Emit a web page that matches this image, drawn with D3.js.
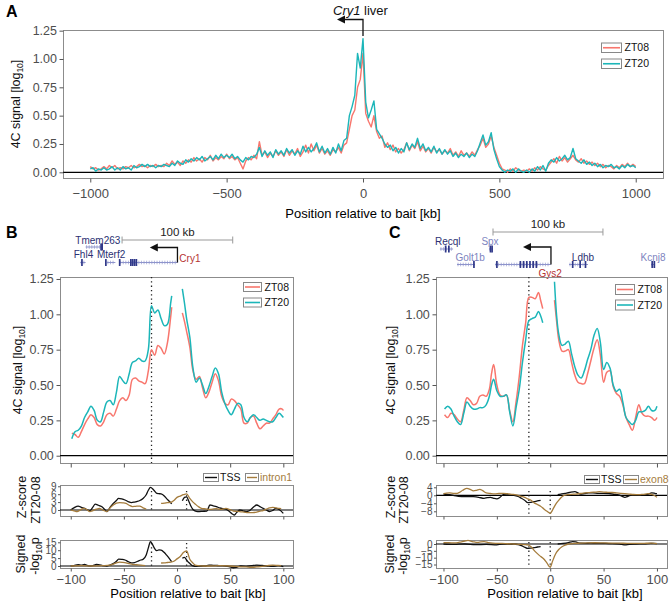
<!DOCTYPE html>
<html><head><meta charset="utf-8">
<script src="https://cdn.jsdelivr.net/npm/d3@7"></script>
<style>body{margin:0;background:#fff;}</style>
</head><body>
<svg id="c" width="670" height="602"></svg>
<script>
// ---------------- DATA ----------------
const seriesNames = ["ZT08","ZT20"];
const baitNames = ["TSS","intron1","exon8"];
// Panel A: 4C signal, -1000..1000 kb every 10 kb
const aKb = d3.range(-1000, 1001, 10);
const aZT08 = [
0.05,0.03,0.04,0.02,0.03,0.05,0.03,0.06,0.04,0.06,
0.03,0.04,0.03,0.05,0.04,0.06,0.04,0.05,0.07,0.05,
0.06,0.04,0.06,0.05,0.07,0.05,0.06,0.05,0.08,0.06,
0.10,0.07,0.09,0.06,0.10,0.08,0.11,0.09,0.13,0.10,
0.12,0.09,0.13,0.11,0.15,0.10,0.13,0.11,0.14,0.12,
0.16,0.12,0.14,0.11,0.13,0.08,0.03,0.10,0.13,0.11,
0.15,0.12,0.27,0.15,0.18,0.13,0.17,0.14,0.19,0.15,
0.18,0.14,0.20,0.15,0.19,0.16,0.21,0.14,0.18,0.24,
0.17,0.25,0.19,0.24,0.17,0.21,0.16,0.19,0.15,0.20,
0.18,0.22,0.17,0.24,0.26,0.38,0.50,0.55,0.75,0.82,
1.05,0.52,0.45,0.40,0.50,0.36,0.30,0.32,0.22,0.26,
0.20,0.24,0.18,0.21,0.17,0.20,0.26,0.19,0.24,0.21,
0.27,0.19,0.23,0.18,0.21,0.17,0.22,0.18,0.20,0.16,
0.19,0.17,0.21,0.15,0.18,0.14,0.19,0.15,0.17,0.14,
0.18,0.15,0.20,0.24,0.30,0.22,0.25,0.32,0.22,0.15,
0.08,0.03,0.02,0.00,0.03,0.01,0.04,0.02,0.01,0.02,
0.01,0.03,0.01,0.04,0.02,0.05,0.03,0.02,0.06,0.09,
0.12,0.08,0.14,0.10,0.13,0.09,0.12,0.15,0.11,0.09,
0.12,0.08,0.10,0.07,0.09,0.06,0.08,0.05,0.07,0.04,
0.06,0.05,0.03,0.06,0.04,0.07,0.05,0.08,0.05,0.07,
0.05];
const aZT20 = [
0.03,0.04,0.01,0.03,0.02,0.04,0.02,0.03,0.05,0.02,
0.04,0.02,0.05,0.03,0.04,0.02,0.06,0.04,0.05,0.07,
0.05,0.07,0.05,0.06,0.04,0.06,0.05,0.07,0.06,0.05,
0.08,0.06,0.10,0.08,0.07,0.11,0.09,0.12,0.10,0.13,
0.11,0.14,0.10,0.12,0.14,0.11,0.15,0.12,0.16,0.13,
0.15,0.13,0.16,0.12,0.14,0.11,0.09,0.13,0.11,0.14,
0.13,0.16,0.22,0.14,0.19,0.15,0.18,0.13,0.20,0.16,
0.19,0.15,0.21,0.17,0.20,0.15,0.19,0.16,0.23,0.18,
0.22,0.18,0.21,0.26,0.18,0.23,0.17,0.21,0.16,0.22,
0.17,0.25,0.19,0.28,0.30,0.50,0.58,0.68,1.05,0.92,
1.18,0.62,0.48,0.55,0.63,0.38,0.34,0.30,0.25,0.22,
0.24,0.19,0.22,0.17,0.21,0.18,0.26,0.20,0.25,0.22,
0.30,0.21,0.25,0.19,0.22,0.18,0.23,0.17,0.21,0.16,
0.20,0.16,0.19,0.14,0.17,0.13,0.16,0.14,0.17,0.13,
0.16,0.14,0.19,0.26,0.33,0.24,0.27,0.35,0.20,0.12,
0.05,0.02,0.00,0.02,0.01,0.03,0.00,0.03,0.01,0.00,
0.02,0.00,0.03,0.01,0.05,0.02,0.06,0.01,0.08,0.11,
0.09,0.13,0.10,0.12,0.15,0.11,0.13,0.21,0.12,0.10,
0.08,0.11,0.07,0.09,0.06,0.08,0.05,0.07,0.04,0.06,
0.05,0.07,0.04,0.05,0.03,0.06,0.04,0.07,0.05,0.06,
0.04];

// Panel B (Cry1) 4C signal, left and right of bait
const bKbL = [-99,-96,-93,-90,-87,-84,-81,-78,-75,-72,-69,-66,-63,-60,-57,-54,-51,-48,-45,-42,-39,-36,-33,-30,-27,-24,-21,-18,-15,-12,-9,-6,-5];
const bZT08L = [0.16,0.15,0.13,0.17,0.22,0.26,0.29,0.27,0.22,0.21,0.24,0.29,0.30,0.28,0.33,0.39,0.41,0.39,0.43,0.54,0.55,0.53,0.52,0.51,0.60,0.75,0.71,0.78,0.76,0.72,0.80,0.98,1.05];
const bZT20L = [0.12,0.17,0.18,0.21,0.27,0.31,0.35,0.32,0.25,0.24,0.31,0.38,0.39,0.36,0.45,0.56,0.53,0.51,0.58,0.66,0.67,0.69,0.67,0.67,0.75,1.06,1.01,1.03,0.97,0.92,0.93,1.08,1.13];
const bKbR = [5,7,9,12,15,18,21,24,27,30,33,36,39,42,45,48,51,54,57,60,63,66,69,72,75,78,81,84,87,90,93,96,99,100];
const bZT08R = [1.01,0.95,0.88,0.77,0.60,0.54,0.56,0.48,0.41,0.45,0.52,0.58,0.53,0.42,0.37,0.36,0.40,0.39,0.36,0.33,0.23,0.23,0.27,0.28,0.23,0.19,0.21,0.23,0.23,0.26,0.29,0.33,0.33,0.32];
const bZT20R = [1.18,1.08,0.97,0.84,0.62,0.52,0.55,0.50,0.44,0.49,0.56,0.62,0.58,0.45,0.37,0.32,0.29,0.33,0.37,0.36,0.27,0.24,0.27,0.29,0.27,0.25,0.26,0.25,0.24,0.24,0.27,0.30,0.28,0.27];

// Panel C (Gys2) 4C signal
const cKbL = [-99,-96,-93,-90,-87,-84,-81,-78,-75,-72,-69,-66,-63,-60,-57,-55,-53,-50,-47,-44,-41,-38,-35,-32,-29,-26,-23,-20,-17,-14,-11,-9,-7];
const cZT08L = [0.29,0.27,0.30,0.29,0.26,0.24,0.32,0.41,0.39,0.36,0.37,0.42,0.43,0.42,0.47,0.58,0.645,0.50,0.43,0.42,0.43,0.32,0.24,0.38,0.56,0.78,0.94,1.12,1.12,1.11,1.155,1.10,1.04];
const cZT20L = [0.33,0.35,0.33,0.28,0.24,0.22,0.30,0.38,0.35,0.33,0.33,0.34,0.34,0.36,0.42,0.50,0.54,0.46,0.42,0.42,0.43,0.31,0.21,0.34,0.47,0.66,0.82,0.955,0.97,0.98,1.02,0.99,0.94];
const cKbR = [4,6,8,11,14,17,20,23,26,29,32,35,38,41,44,47,50,53,56,59,62,65,68,71,74,77,80,83,86,89,92,95,98,100];
const cZT08R = [1.10,0.95,0.82,0.74,0.74,0.75,0.66,0.57,0.52,0.51,0.51,0.58,0.67,0.76,0.82,0.71,0.52,0.59,0.60,0.49,0.44,0.42,0.36,0.27,0.22,0.18,0.27,0.36,0.30,0.28,0.28,0.27,0.25,0.27];
const cZT20R = [1.23,0.99,0.86,0.78,0.79,0.81,0.72,0.63,0.57,0.55,0.60,0.68,0.75,0.85,0.90,0.80,0.61,0.66,0.62,0.50,0.455,0.47,0.38,0.27,0.24,0.22,0.25,0.31,0.31,0.32,0.35,0.32,0.32,0.35];

// Lower panels: [kb, value]
const bZTssL = [[-100,0],[-97,0.8],[-93,1.5],[-90,1.0],[-87,0.6],[-84,0.0],[-82,-0.3],[-79,1.2],[-77,2.2],[-74,1.8],[-71,1.3],[-68,0.2],[-66,-0.6],[-63,1.0],[-60,2.5],[-57,3.6],[-55,4.4],[-52,4.2],[-49,3.8],[-46,3.2],[-43,2.8],[-40,3.0],[-38,3.2],[-35,3.6],[-32,4.4],[-29,5.8],[-27,7.5],[-25,8.6],[-22,7.6],[-19,6.3],[-17,6.2],[-15,6.1],[-12,5.3],[-10,4.4],[-7,3.2],[-5,2.3]];
const bZTssR = [[5,3.5],[7,4.8],[9,5.0],[11,3.4],[13,1.5],[15,0.2],[18,-0.5],[21,-0.6],[24,-0.5],[28,-0.4],[31,1.9],[34,1.6],[37,1.3],[40,0.8],[43,0.5],[46,0.3],[49,-0.5],[52,-1.5],[54,-1.9],[56,-1.0],[59,0.0],[62,-0.3],[65,-0.6],[68,-0.3],[71,0.8],[75,1.9],[78,1.3],[81,0.6],[84,0.0],[87,-0.6],[90,-0.2],[93,0.6],[96,0.2],[100,-1.3]];
const bZIntL = [[-100,0],[-97,-0.3],[-94,-0.6],[-91,0.0],[-88,0.6],[-85,0.2],[-82,-0.6],[-79,-0.2],[-76,0.3],[-73,0.6],[-70,0.0],[-66,-0.6],[-63,0.8],[-60,1.9],[-57,2.6],[-54,2.8],[-51,2.7],[-48,2.5],[-45,1.8],[-42,1.3],[-39,1.4],[-35,1.5],[-32,0.8],[-29,0.3]];
const bZIntR = [[-15,2.5],[-12,2.6],[-9,2.8],[-6,2.9],[-3,3.6],[0,4.8],[3,5.3],[6,5.8],[9,6.1],[12,4.4],[15,3.0],[17,2.3],[20,1.3],[23,0.6],[27,0.4],[30,0.2],[33,0.3],[37,0.5],[41,0.2],[46,0.6],[50,0.1],[53,-0.4],[56,-0.5],[59,-0.6],[63,-0.8],[67,-1.0],[71,-1.0],[75,-0.8],[78,-0.4],[81,-0.2],[84,0.3],[87,0.8],[90,1.0],[93,0.8],[96,0.6],[98,0.5]];
const bPTssL = [[-100,0],[-97,0.3],[-93,0.8],[-90,0.5],[-87,1.0],[-84,0.3],[-81,0],[-78,0.5],[-76,1.0],[-73,0.7],[-70,0.3],[-66,0],[-63,0.5],[-60,1.5],[-57,3.0],[-55,4.4],[-52,4.2],[-49,3.8],[-46,2.8],[-43,2.0],[-40,2.2],[-37,3.0],[-34,3.8],[-32,4.2],[-29,7.0],[-27,11.5],[-25,15.4],[-23,13.5],[-21,11.0],[-19,9.7],[-17,10.2],[-15,10.1],[-12,8.5],[-10,7.0],[-7,4.5],[-5,2.7]];
const bPTssR = [[5,4.9],[7,5.5],[9,3.8],[11,2.2],[13,1.0],[15,0.0],[18,-0.3],[22,0],[26,0],[30,0.6],[34,0.4],[38,0.3],[42,0.2],[46,0],[50,-0.6],[53,-1.1],[56,-0.8],[60,0],[65,-0.2],[70,0.2],[75,0.6],[80,0.3],[85,0],[90,-0.2],[95,0.2],[100,-0.4]];
const bPIntL = [[-100,0],[-90,0.2],[-80,0],[-70,0.2],[-63,0.5],[-60,1.2],[-57,2.0],[-54,2.5],[-51,2.3],[-48,2.0],[-45,1.5],[-42,1.0],[-38,0.8],[-34,0.6],[-30,0.2]];
const bPIntR = [[-15,1.9],[-12,2.0],[-9,2.2],[-6,2.4],[-3,3.0],[0,4.5],[3,6.0],[6,8.5],[9,9.5],[12,4.3],[15,1.8],[17,0.6],[20,0.2],[25,0],[30,0],[40,0.2],[50,0],[55,-0.3],[60,-0.5],[65,-0.6],[70,-0.8],[75,-0.6],[80,-0.2],[85,0.2],[90,0.5],[95,0.3],[98,0.2]];
const cZTssL = [[-100,0.6],[-97,0.4],[-94,0.3],[-90,-0.2],[-86,-0.5],[-81,-0.7],[-77,-0.6],[-72,-0.7],[-67,-1.0],[-62,-1.5],[-59,-1.2],[-56,-1.0],[-53,-1.5],[-50,-1.8],[-47,-1.0],[-44,0.3],[-40,0.2],[-37,0.1],[-34,0.0],[-30,-0.6],[-27,-1.5],[-24,-2.5],[-21,-3.7],[-18,-3.5],[-15,-3.2],[-12,-2.8],[-9,-2.5]];
const cZTssR = [[7,0.3],[10,0.6],[14,1.0],[18,1.4],[23,1.8],[26,1.2],[28,0.6],[32,0.9],[36,1.2],[40,1.2],[45,1.0],[50,1.0],[55,0.9],[60,0.5],[64,0.2],[67,-0.4],[70,-1.0],[73,-0.5],[77,0.2],[81,0.2],[85,0.1],[89,0.2],[92,0.6],[95,1.2],[98,1.0],[100,0.8]];
const cZExon = [[-100,0.8],[-97,1.1],[-94,1.2],[-91,1.0],[-88,0.9],[-85,1.5],[-82,2.5],[-78,3.5],[-75,3.0],[-72,2.2],[-69,2.5],[-66,3.0],[-63,2.2],[-60,1.2],[-56,0.9],[-52,0.7],[-48,0.9],[-44,1.0],[-40,0.8],[-36,0.5],[-32,0.2],[-28,-0.4],[-24,-1.0],[-21,-1.8],[-18,-2.5],[-15,-3.8],[-12,-4.6],[-9,-5.5],[-6,-6.8],[-3,-8.0],[0,-9.0],[2,-7.5],[4,-5.5],[6,-3.8],[8,-2.5],[10,-1.2],[13,0.0],[16,0.3],[20,0.5],[24,0.6],[28,0.9],[33,1.2],[38,1.5],[43,1.6],[46,1.8],[50,1.6],[54,1.5],[58,1.4],[62,1.2],[66,1.0],[70,0.8],[74,0.6],[78,0.4],[83,0.3],[87,0.5],[92,0.8],[95,0.5],[98,-0.2],[100,-1.0]];
const cPTssL = [[-100,0],[-90,-0.3],[-80,0],[-70,-0.5],[-60,-0.3],[-50,-0.6],[-45,0],[-40,0],[-34,0],[-30,-0.5],[-27,-1.2],[-24,-2.3],[-21,-3.2],[-18,-3.0],[-15,-2.7],[-12,-2.2],[-9,-1.9]];
const cPTssR = [[7,0],[12,0.4],[17,1.0],[21,1.7],[24,1.5],[28,0.6],[33,0.5],[38,0.6],[43,0.4],[48,0.5],[55,0.3],[62,0.2],[67,-0.3],[70,-0.6],[74,-0.2],[80,0],[88,0.1],[94,0.4],[97,0.5],[100,0.3]];
const cPExon = [[-100,1.0],[-95,1.0],[-90,0.8],[-85,1.3],[-80,2.2],[-77,2.6],[-74,2.0],[-71,1.5],[-68,1.2],[-65,1.6],[-62,1.7],[-58,1.0],[-54,0.6],[-50,0.5],[-45,0.4],[-40,0.2],[-34,0.0],[-28,-0.2],[-24,-0.4],[-21,-0.7],[-18,-2.0],[-14,-5.6],[-10,-8.5],[-6,-11.0],[-3,-14.0],[0,-17.0],[2,-13.0],[4,-9.0],[6,-6.0],[8,-4.0],[11,-2.0],[14,-0.8],[17,0.0],[22,0.4],[28,0.6],[35,0.8],[42,0.9],[50,0.8],[58,0.7],[65,0.6],[72,0.5],[80,0.4],[88,0.5],[95,0.6],[100,0.3]];

// Tick values
const aXTicks = [-1000,-500,0,500,1000];
const mainYTicks = [0,0.25,0.5,0.75,1.0,1.25];
const kbTicks = [-100,-50,0,50,100];
const bZTicks = [0,3,6,9], bPTicks = [0,5,10,15];
const cZTicks = [-8,-4,0,4], cPTicks = [-15,-10,-5,0];
const bDotted = [-24, 9], cDotted = [-20, 0];

// Gene tracks
const bGeneName = ["Fhl4","Tmem263","Mterf2","Cry1"];
const bGeneStart = [-91,-86,-66,-54];
const bGeneEnd = [-86,-71,-58,0.5];
const bGeneRow = [2,1,2,2];
const bGeneExons = [[-89.5],[-71.5,-70.5],[-67],[-54,-43.5,-41.8,-40,-38.3]];
const bGeneLabelKb = [-88,-74.5,-62,2.2];
const cGeneName = ["Recql","Spx","Golt1b","Gys2","Ldhb","Kcnj8"];
const cGeneStart = [-103.3,-57.4,-87.3,-51.7,17.6,94.5];
const cGeneEnd = [-91,-53.7,-70.5,0.5,35.4,98.2];
const cGeneRow = [1,1,2,2,2,2];
const cGeneExons = [[-98,-95],[-56,-54.5],[-71.5],[-50,-28,-25,-22,-19,-16,-13],[21,28,33],[95.5,97.5]];
const cGeneLabelKb = [-96,-56.4,-75,0,30.7,96.3];

// ---------------- DRAW ----------------
const FONT = "'Liberation Sans', Arial, Helvetica, sans-serif";
const RED = "#F8766D", TEAL = "#1CB6B9", BROWN = "#A57C3C";
const NAVY = "#2C3172", LIGHT = "#7E84C0", GENE = "#8E94CC", GENEDARK = "#2F3889", GENERED = "#B53232";
const svg = d3.select("#c").attr("font-family", FONT);

function addBox(x0,y0,x1,y1){
  svg.append("rect").attr("x",x0+0.5).attr("y",y0+0.5).attr("width",x1-x0).attr("height",y1-y0)
    .attr("fill","none").attr("stroke","#8c8c8c").attr("stroke-width",1);
}
function styleAxis(g, fs){
  g.attr("font-family",FONT).attr("font-size",fs);
  g.select(".domain").remove();
  g.selectAll(".tick line").attr("stroke","#555");
  g.selectAll(".tick text").attr("fill","#4d4d4d");
}
function axisL(y, x0, vals, fmt, fs, size, pad){
  const g = svg.append("g").attr("transform",`translate(${x0+0.5},0)`)
    .call(d3.axisLeft(y).tickValues(vals).tickFormat(fmt).tickSize(size).tickPadding(pad));
  styleAxis(g, fs);
}
function axisB(x, y0, vals, fmt, fs, size, pad){
  const g = svg.append("g").attr("transform",`translate(0,${y0+0.5})`)
    .call(d3.axisBottom(x).tickValues(vals).tickFormat(fmt).tickSize(size).tickPadding(pad));
  styleAxis(g, fs);
}
function drawLine(pts, x, y, color, w, curve){
  svg.append("path").datum(pts).attr("fill","none").attr("stroke",color).attr("stroke-width",w)
    .attr("stroke-linejoin","round")
    .attr("d", d3.line().x(d=>x(d[0])).y(d=>y(d[1])).curve(curve));
}
function zeroLine(x, y, w){
  const [a,b] = x.range();
  svg.append("line").attr("x1",a).attr("x2",b).attr("y1",y(0)).attr("y2",y(0))
    .attr("stroke","#000").attr("stroke-width",w);
}
function dotted(xv, x, ya, yb){
  svg.append("line").attr("x1",x(xv)).attr("x2",x(xv)).attr("y1",ya).attr("y2",yb)
    .attr("stroke","#222").attr("stroke-width",1.3).attr("stroke-dasharray","1.3,3");
}
function legendV(x, y, w, h, gap, colors, labels, fs){
  labels.forEach((lab,i)=>{
    const yy = y + i*gap;
    svg.append("rect").attr("x",x+0.5).attr("y",yy+0.5).attr("width",w).attr("height",h)
      .attr("fill","#fff").attr("stroke","#888");
    svg.append("line").attr("x1",x+2).attr("x2",x+w-1).attr("y1",yy+h/2+0.5).attr("y2",yy+h/2+0.5)
      .attr("stroke",colors[i]).attr("stroke-width",1.6);
    svg.append("text").attr("x",x+w+3.5).attr("y",yy+h/2+4).attr("font-size",fs).attr("fill","#111").text(lab);
  });
}
function legendH(items, y, h, fs){
  items.forEach(it=>{
    svg.append("rect").attr("x",it.x+0.5).attr("y",y+0.5).attr("width",it.w).attr("height",h)
      .attr("fill","#fff").attr("stroke","#888");
    svg.append("line").attr("x1",it.x+2).attr("x2",it.x+it.w-1).attr("y1",y+h/2+0.5).attr("y2",y+h/2+0.5)
      .attr("stroke",it.color).attr("stroke-width",1.4);
    svg.append("text").attr("x",it.x+it.w+2).attr("y",y+h/2+4).attr("font-size",fs).attr("fill",it.tc).text(it.label);
  });
}
function vLabel(x, y, fs, parts){
  const t = svg.append("text").attr("transform",`translate(${x},${y}) rotate(-90)`)
    .attr("text-anchor","middle").attr("font-size",fs).attr("fill","#111");
  parts.forEach(p=>{
    const s = t.append("tspan").text(p.t);
    if (p.sub) s.attr("font-size",fs*0.68).attr("dy",3);
    if (p.up) s.attr("dy",-3);
  });
}
function letter(x,y,s){
  svg.append("text").attr("x",x).attr("y",y).attr("font-size",16).attr("font-weight","bold").attr("fill","#000").text(s);
}
const fmt2 = d3.format(".2f");
const fmtInt = d3.format("d");

// ======== Panel A ========
letter(6,17,"A");
const ax = d3.scaleLinear().domain([-1100,1100]).range([63,663]);
const ay = d3.scaleLinear().domain([-0.0503,1.2559]).range([178,30]);
addBox(63,30,663,178);
zeroLine(ax, ay, 1.3);
drawLine(aKb.map((k,i)=>[k,aZT08[i]]), ax, ay, RED, 1.4, d3.curveLinear);
drawLine(aKb.map((k,i)=>[k,aZT20[i]]), ax, ay, TEAL, 1.4, d3.curveLinear);
axisL(ay, 63, mainYTicks, fmt2, 12.5, 4, 2.5);
axisB(ax, 178, aXTicks, fmtInt, 13, 4, 6);
vLabel(20, 104, 12.5, [{t:"4C signal [log"},{t:"10",sub:true},{t:"]",up:true}]);
svg.append("text").attr("x",363).attr("y",218).attr("text-anchor","middle").attr("font-size",13).text("Position relative to bait [kb]");
legendV(601, 42.5, 20, 9.5, 16, [RED,TEAL], seriesNames, 10.5);
// title with TSS arrow
{
  const t = svg.append("text").attr("x",333).attr("y",15).attr("font-size",13).attr("fill","#111");
  t.append("tspan").attr("font-style","italic").text("Cry1");
  t.append("tspan").text(" liver");
  const x0 = ax(0);
  svg.append("path").attr("d",`M${x0},36 V19.5 H${x0-19}`).attr("fill","none").attr("stroke","#111").attr("stroke-width",1.3);
  svg.append("path").attr("d",`M${x0-26},19.5 l8,-4 v8 z`).attr("fill","#111");
}

// ======== Gene tracks ========
function geneTrack(x, names, starts, ends, rows, exons, labKb, rowY, labY, labColors, special){
  names.forEach((n,i)=>{
    const gy = rowY[rows[i]];
    const a = x(starts[i]), b = x(ends[i]);
    svg.append("line").attr("x1",a).attr("x2",b).attr("y1",gy).attr("y2",gy).attr("stroke",GENE).attr("stroke-width",1);
    for (let xx = a+1; xx < b-0.5; xx += 2.6) {
      svg.append("line").attr("x1",xx).attr("x2",xx).attr("y1",gy-1.8).attr("y2",gy+1.8).attr("stroke",GENE).attr("stroke-width",0.7);
    }
    exons[i].forEach(e=>{
      svg.append("rect").attr("x",x(e)-0.8).attr("y",gy-3.5).attr("width",1.7).attr("height",7).attr("fill",GENEDARK);
    });
    const sp = special[i];
    svg.append("text").attr("x",x(labKb[i])).attr("y", sp ? sp.y : labY[rows[i]])
      .attr("text-anchor", sp ? sp.anchor : "middle").attr("font-size",10).attr("fill",labColors[i]).text(n);
  });
}
function tssArrow(x, kb, yBottom, yTop, tipKb){
  const x0 = x(kb), xt = x(tipKb);
  svg.append("path").attr("d",`M${x0},${yBottom} V${yTop} H${xt+7}`).attr("fill","none").attr("stroke","#111").attr("stroke-width",1.3);
  svg.append("path").attr("d",`M${xt},${yTop} l8,-4 v8 z`).attr("fill","#111");
}
function scaleBar(x, k0, k1, y, ty){
  svg.append("path").attr("d",`M${x(k0)},${y-3.5} V${y+3.5} M${x(k0)},${y} H${x(k1)} M${x(k1)},${y-3.5} V${y+3.5}`)
    .attr("fill","none").attr("stroke","#999").attr("stroke-width",1);
  svg.append("text").attr("x",(x(k0)+x(k1))/2).attr("y",ty).attr("text-anchor","middle").attr("font-size",11.5).attr("fill","#222").text("100 kb");
}

// ======== Panel B ========
letter(6,238,"B");
const bx = d3.scaleLinear().domain([-110.1,109.1]).range([60,293]);
const by = d3.scaleLinear().domain([-0.0516,1.264]).range([463,277]);
scaleBar(bx, -51.7, 52.4, 240, 236);
geneTrack(bx, bGeneName, bGeneStart, bGeneEnd, bGeneRow, bGeneExons, bGeneLabelKb,
  {1:247, 2:262.5}, {1:244, 2:258}, [NAVY,NAVY,NAVY,GENERED],
  [null,null,null,{y:262,anchor:"start"}]);
tssArrow(bx, 0.4, 262.5, 247.5, -25.6);
addBox(60,277,293,463);
zeroLine(bx, by, 1.3);
dotted(bDotted[0], bx, 277, 463);
drawLine(bKbL.map((k,i)=>[k,bZT08L[i]]), bx, by, RED, 1.5, d3.curveCatmullRom);
drawLine(bKbR.map((k,i)=>[k,bZT08R[i]]), bx, by, RED, 1.5, d3.curveCatmullRom);
drawLine(bKbL.map((k,i)=>[k,bZT20L[i]]), bx, by, TEAL, 1.5, d3.curveCatmullRom);
drawLine(bKbR.map((k,i)=>[k,bZT20R[i]]), bx, by, TEAL, 1.5, d3.curveCatmullRom);
axisL(by, 60, mainYTicks, fmt2, 12.5, 4, 2.7);
axisB(bx, 463, kbTicks, "", 12, 4, 3);
vLabel(22, 370, 12.5, [{t:"4C signal [log"},{t:"10",sub:true},{t:"]",up:true}]);
legendV(243, 282, 18, 9, 15.5, [RED,TEAL], seriesNames, 10.5);

// B lower: z-score
const bzy = d3.scaleLinear().domain([-2.28,9.49]).range([516,485]);
addBox(60,485,293,516);
zeroLine(bx, bzy, 1.2);
bDotted.forEach(v=>dotted(v, bx, 491, 510));
drawLine(bZTssL, bx, bzy, "#111", 1.3, d3.curveMonotoneX);
drawLine(bZTssR, bx, bzy, "#111", 1.3, d3.curveMonotoneX);
drawLine(bZIntL, bx, bzy, BROWN, 1.3, d3.curveMonotoneX);
drawLine(bZIntR, bx, bzy, BROWN, 1.3, d3.curveMonotoneX);
axisL(bzy, 60, bZTicks, fmtInt, 10, 2.5, 1.5);
axisB(bx, 516, kbTicks, "", 12, 3, 3);
legendH([{x:203,w:15,color:"#111",label:baitNames[0],tc:"#111"},{x:245,w:13,color:BROWN,label:baitNames[1],tc:BROWN}], 473, 8, 10.5);
// B lower: signed -log10 p
const bpy = d3.scaleLinear().domain([-1.27,16.46]).range([568,540]);
addBox(60,540,293,568);
zeroLine(bx, bpy, 1.2);
bDotted.forEach(v=>dotted(v, bx, 543, 566));
drawLine(bPTssL, bx, bpy, "#111", 1.3, d3.curveMonotoneX);
drawLine(bPTssR, bx, bpy, "#111", 1.3, d3.curveMonotoneX);
drawLine(bPIntL, bx, bpy, BROWN, 1.3, d3.curveMonotoneX);
drawLine(bPIntR, bx, bpy, BROWN, 1.3, d3.curveMonotoneX);
axisL(bpy, 60, bPTicks, fmtInt, 10, 2.5, 1.5);
axisB(bx, 568, kbTicks, fmtInt, 13, 3, 3.5);
svg.append("text").attr("x",188).attr("y",598).attr("text-anchor","middle").attr("font-size",13).text("Position relative to bait [kb]");
vLabel(26, 497, 12.5, [{t:"Z-score"}]);
vLabel(40, 500, 12.5, [{t:"ZT20-08"}]);
vLabel(25, 554, 12.5, [{t:"Signed"}]);
vLabel(38.5, 556, 12.5, [{t:"-log"},{t:"10",sub:true},{t:"p",up:true}]);

// ======== Panel C ========
letter(389,238,"C");
const cx = d3.scaleLinear().domain([-107,109.4]).range([436,667]);
const cy = d3.scaleLinear().domain([-0.0516,1.264]).range([463,277]);
scaleBar(cx, -53.6, 49.4, 232, 228);
geneTrack(cx, cGeneName, cGeneStart, cGeneEnd, cGeneRow, cGeneExons, cGeneLabelKb,
  {1:249, 2:264.5}, {1:245, 2:261}, [NAVY,LIGHT,LIGHT,GENERED,NAVY,LIGHT],
  [null,null,null,{y:276.5,anchor:"middle"},null,null]);
tssArrow(cx, 0.7, 264.5, 247, -25.5);
addBox(436,277,667,463);
zeroLine(cx, cy, 1.3);
dotted(cDotted[0], cx, 277, 463);
drawLine(cKbL.map((k,i)=>[k,cZT08L[i]]), cx, cy, RED, 1.5, d3.curveCatmullRom);
drawLine(cKbR.map((k,i)=>[k,cZT08R[i]]), cx, cy, RED, 1.5, d3.curveCatmullRom);
drawLine(cKbL.map((k,i)=>[k,cZT20L[i]]), cx, cy, TEAL, 1.5, d3.curveCatmullRom);
drawLine(cKbR.map((k,i)=>[k,cZT20R[i]]), cx, cy, TEAL, 1.5, d3.curveCatmullRom);
axisL(cy, 436, mainYTicks, fmt2, 12.5, 4, 2.7);
axisB(cx, 463, kbTicks, "", 12, 4, 3);
vLabel(395, 370, 12.5, [{t:"4C signal [log"},{t:"10",sub:true},{t:"]",up:true}]);
legendV(615, 284, 19, 10, 15.5, [RED,TEAL], seriesNames, 10.5);

// C lower: z-score
const czy = d3.scaleLinear().domain([-10.35,5.15]).range([516,485]);
addBox(436,485,667,516);
zeroLine(cx, czy, 1.2);
cDotted.forEach(v=>dotted(v, cx, 491, 514));
drawLine(cZTssL, cx, czy, "#111", 1.3, d3.curveMonotoneX);
drawLine(cZTssR, cx, czy, "#111", 1.3, d3.curveMonotoneX);
drawLine(cZExon, cx, czy, BROWN, 1.3, d3.curveMonotoneX);
axisL(czy, 436, cZTicks, fmtInt, 10, 2.5, 1.5);
axisB(cx, 516, kbTicks, "", 12, 3, 3);
legendH([{x:584,w:15,color:"#111",label:baitNames[0],tc:"#111"},{x:623,w:15,color:BROWN,label:baitNames[2],tc:BROWN}], 475, 8, 10.5);
// C lower: signed
const cpy = d3.scaleLinear().domain([-17.56,2.93]).range([568,540]);
addBox(436,540,667,568);
zeroLine(cx, cpy, 1.2);
cDotted.forEach(v=>dotted(v, cx, 542, 567));
drawLine(cPTssL, cx, cpy, "#111", 1.3, d3.curveMonotoneX);
drawLine(cPTssR, cx, cpy, "#111", 1.3, d3.curveMonotoneX);
drawLine(cPExon, cx, cpy, BROWN, 1.3, d3.curveMonotoneX);
axisL(cpy, 436, cPTicks, fmtInt, 10, 2.5, 1.5);
axisB(cx, 568, kbTicks, fmtInt, 13, 3, 3.5);
svg.append("text").attr("x",565).attr("y",598).attr("text-anchor","middle").attr("font-size",13).text("Position relative to bait [kb]");
vLabel(395, 497, 12.5, [{t:"Z-score"}]);
vLabel(408, 500, 12.5, [{t:"ZT20-08"}]);
vLabel(394, 554, 12.5, [{t:"Signed"}]);
vLabel(407, 556, 12.5, [{t:"-log"},{t:"10",sub:true},{t:"p",up:true}]);
</script>
</body></html>
